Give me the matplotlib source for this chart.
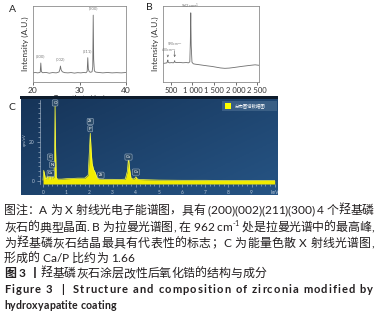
import matplotlib
matplotlib.use('Agg')
import matplotlib.pyplot as plt
import numpy as np
from matplotlib.patches import Rectangle
from matplotlib.font_manager import FontProperties
from matplotlib.ticker import MultipleLocator

# ---------------- data ----------------
xrd_theta = [20, 20.5, 21, 21.4, 21.55, 21.68, 21.8, 22.1, 22.8, 23.5, 24.2, 25, 25.6, 25.8,
             25.9, 26.05, 26.3, 26.8, 27.5, 28.2, 28.9, 29.6, 30.3, 30.9, 31.4, 31.65, 31.78,
             31.9, 32.1, 32.4, 32.7, 32.85, 32.95, 33.05, 33.2, 33.5, 34.2, 35, 36, 37, 38, 39, 40]
xrd_int = [12, 12.5, 12, 12.4, 13, 25, 13.5, 12.2, 12.6, 11.6, 12.4, 12, 13.2, 17, 21, 16, 13.5,
           12.3, 12, 12.4, 11.7, 12.3, 12, 12.5, 12.2, 14, 32, 17, 13.5, 12.8, 13.5, 20, 88, 30,
           14.5, 13, 12.5, 12, 12.5, 12, 12.3, 12, 12.5]
xrd_peak_labels = ['(200)', '(002)', '(211)', '(300)']
xrd_peak_pos = [21.68, 25.9, 31.78, 32.95]
xrd_peak_height = [25, 21, 32, 88]
xrd_ticks = [20, 30, 40]

raman_shift = [330, 370, 410, 425, 432, 440, 470, 520, 560, 582, 590, 598, 640, 700, 780, 860,
               910, 940, 952, 962, 972, 990, 1020, 1060, 1150, 1250, 1350, 1450, 1550, 1650,
               1750, 1850, 1950, 2050, 2150, 2250, 2350, 2450, 2540]
raman_int = [24.5, 24.8, 25.2, 27.5, 29, 26, 25.2, 25.5, 25.2, 26.5, 28, 26, 25.5, 25.8, 25.3,
             25.6, 25.2, 26.5, 52, 91, 48, 26, 24, 23.5, 22.8, 22, 21.2, 20.5, 19.5, 18.5, 18,
             18.3, 19, 19.8, 20.6, 21.3, 22, 22.6, 22]
raman_peak_label = '962cm$^{-1}$'
raman_peak_pos = 962
raman_small_labels = ['430cm$^{-1}$', '590cm$^{-1}$']
raman_small_pos = [432, 590]
raman_ticks = [500, 1000, 1500, 2000, 2500]
raman_ticklabels = ['500', '1 000', '1 500', '2 000', '2 500']

eds_kev = [0.0, 0.03, 0.06, 0.1, 0.15, 0.18, 0.22, 0.26, 0.28, 0.31, 0.35, 0.39, 0.43, 0.47,
           0.5, 0.52, 0.54, 0.57, 0.62, 0.8, 1.0, 1.2, 1.5, 1.8, 1.95, 2.0, 2.04, 2.08, 2.12,
           2.18, 2.25, 2.32, 2.4, 2.5, 2.7, 3.0, 3.3, 3.55, 3.64, 3.69, 3.74, 3.8, 3.9, 3.97,
           4.01, 4.06, 4.15, 4.4, 5, 6, 7, 8, 9, 10]
eds_cps = [0.5, 5.5, 4, 1.5, 1, 2.5, 1, 3, 4.5, 2, 1, 2.5, 1.5, 2, 15, 40, 18, 2, 1, 1, 1.2,
           1.3, 1.5, 1.5, 3, 15, 24.5, 15, 9, 6, 4.5, 2, 1.2, 1, 0.9, 0.9, 0.8, 1, 5, 12, 6,
           1.5, 1, 1.5, 2.2, 1.2, 0.8, 0.7, 0.5, 0.4, 0.4, 0.3, 0.3, 0.3]
eds_labels = ['O', 'Zr', 'P', 'C', 'N', 'Ca', 'Zr', 'Ca', 'Ca']
eds_label_x = [0.52, 2.04, 2.04, 0.3, 0.4, 0.33, 2.5, 3.69, 4.01]
eds_label_y = [40, 30.5, 26.8, 12.3, 8.3, 4.0, 3.0, 12.3, 4.6]
eds_xticks = [0, 1, 2, 3, 4, 5, 6, 7, 8, 9, 10]
eds_xticklabels = ['0', '1', '2', '3', '4', '5', '6', '7', '8', '9', 'keV']
eds_yticks = [0, 20]
eds_legend = '分布图谱数据图'

caption = [
    [("图注：A 为 X 射线光电子能谱图，具有 (200)(002)(211)(300) 4 个羟基磷", {})],
    [("灰石的典型晶面. B 为拉曼光谱图, 在 962 cm", {}), ("-1", {'sup': True}),
     (" 处是拉曼光谱中的最高峰,", {})],
    [("为羟基磷灰石结晶最具有代表性的标志；C 为能量色散 X 射线光谱图,", {})],
    [("形成的 Ca/P 比约为 1.66", {})],
    [("图 3 丨", {'bold': True}), ("羟基磷灰石涂层改性后氧化锆的结构与成分", {})],
    [("Figure 3  |  Structure and composition of zirconia modified by", {'bold': True, 'fs': 8})],
    [("hydroxyapatite coating", {'bold': True, 'fs': 7.6})],
]

# ---------------- figure ----------------
W, H = 379, 316
fig = plt.figure(figsize=(W / 100, H / 100), dpi=100)
LAT = 'Lato'
CJK = 'Noto Sans CJK SC'
plt.rcParams['font.family'] = [LAT, CJK, 'DejaVu Sans']


def px_axes(l, t, r, b, **kw):
    return fig.add_axes([l / W, 1 - b / H, (r - l) / W, (b - t) / H], **kw)


GRAY = '#6e6e6e'

# ---- Panel A ----
axA = px_axes(33, 6, 126, 82)
axA.plot(xrd_theta, xrd_int, color=GRAY, lw=0.6)
axA.set_xlim(20, 40)
axA.set_ylim(0, 100)
axA.set_xticks(xrd_ticks)
axA.set_yticks([])
axA.tick_params(axis='x', labelsize=6, length=2, width=0.5, pad=1.5, colors='#333333')
for s in axA.spines.values():
    s.set_color('#8c8c8c')
    s.set_linewidth(0.6)
axA.set_xlabel('Two- theta (deg)', fontsize=5, labelpad=1, color='#333333')
axA.set_ylabel('Intensity (A.U.)', fontsize=6, labelpad=3, color='#333333')
for lab, xp, hp in zip(xrd_peak_labels, xrd_peak_pos, xrd_peak_height):
    axA.text(xp, hp + 6, lab, fontsize=3, color='#777777', ha='center', va='bottom')
fig.text(12 / W, 1 - 9 / H, 'A', fontsize=7.5, ha='center', va='center', color='#222222')

# ---- Panel B ----
axB = px_axes(163, 6, 259, 82)
axB.plot(raman_shift, raman_int, color=GRAY, lw=0.6)
axB.set_xlim(320, 2540)
axB.set_ylim(0, 100)
axB.set_xticks(raman_ticks)
axB.set_xticklabels(raman_ticklabels)
axB.set_yticks([])
axB.tick_params(axis='x', labelsize=5.5, length=2, width=0.5, pad=1.5, colors='#333333')
for s in axB.spines.values():
    s.set_color('#8c8c8c')
    s.set_linewidth(0.6)
axB.set_xlabel('Raman shift (cm$^{-1}$)', fontsize=5, labelpad=1, color='#333333')
axB.set_ylabel('Intensity (A.U.)', fontsize=6, labelpad=3, color='#333333')
axB.text(raman_peak_pos, 93, raman_peak_label, fontsize=3, color='#777777', ha='center', va='bottom')
for lab, xp, ytxt in zip(raman_small_labels, raman_small_pos, [37, 45]):
    axB.annotate('', xy=(xp, 29), xytext=(xp, ytxt),
                 arrowprops=dict(arrowstyle='->', lw=0.4, color='#555555', mutation_scale=3))
    axB.text(xp + 10, ytxt, lab, fontsize=2.4, color='#777777', ha='center', va='bottom')
fig.text(149 / W, 1 - 8 / H, 'B', fontsize=7.5, ha='center', va='center', color='#222222')

# ---- Panel C ----
bg = px_axes(21, 97, 278, 195)
grad = np.linspace(0, 1, 64)
gx, gy = np.meshgrid(grad, grad)
g = 0.55 * gx + 0.45 * (1 - gy)
c0 = np.array([0x16, 0x34, 0x58]) / 255
c1 = np.array([0x26, 0x54, 0x84]) / 255
img = c0[None, None, :] * (1 - g[..., None]) + c1[None, None, :] * g[..., None]
bg.imshow(img, extent=[0, 1, 0, 1], aspect='auto', origin='lower')
bg.set_xlim(0, 1)
bg.set_ylim(0, 1)
bg.axis('off')
fig.add_artist(Rectangle((20 / W, 1 - 98.5 / H), 258 / W, 2 / H, transform=fig.transFigure,
                         color='#0e1c2c', lw=0))

axC = px_axes(40, 100, 277, 184)
axC.patch.set_alpha(0)
axC.fill_between(eds_kev, eds_cps, -1.5, color='#f2ec00', lw=0)
axC.plot(eds_kev, eds_cps, color='#ffff40', lw=0.5)
axC.set_xlim(-0.13, 10.1)
axC.set_ylim(-1.5, 41.5)
axC.set_xticks(eds_xticks)
axC.set_xticklabels(eds_xticklabels)
axC.set_yticks(eds_yticks)
axC.xaxis.set_minor_locator(MultipleLocator(0.2))
axC.yaxis.set_minor_locator(MultipleLocator(2.5))
LIGHT = '#b8c6d6'
axC.tick_params(which='major', labelsize=3.5, length=2.5, width=0.4, pad=1.5, colors=LIGHT)
axC.tick_params(which='minor', length=1.3, width=0.4, colors=LIGHT)
for k, s in axC.spines.items():
    if k == 'left':
        s.set_color(LIGHT)
        s.set_linewidth(0.4)
    else:
        s.set_visible(False)
fig.text(25 / W, 1 - 140 / H, 'cps/eV', fontsize=3, rotation=90, color=LIGHT,
         ha='center', va='center')
for lab, xl, yl in zip(eds_labels, eds_label_x, eds_label_y):
    axC.text(xl, yl, lab, fontsize=3.2, color='white', ha='center', va='center',
             bbox=dict(boxstyle='round,pad=0.25', fc='#2d4c69', ec='#a9bccf', lw=0.35))
fig.add_artist(Rectangle((222 / W, 1 - 111 / H), 55 / W, 10 / H, transform=fig.transFigure,
                         color='#3e6288', lw=0, alpha=0.9))
fig.add_artist(Rectangle((225 / W, 1 - 109 / H), 6 / W, 6 / H, transform=fig.transFigure,
                         color='#ffff00', lw=0))
fig.text(235 / W, 1 - 106 / H, eds_legend, fontsize=3.2, color='white', ha='left',
         va='center', family=[CJK])
fig.text(12 / W, 1 - 107 / H, 'C', fontsize=7.5, ha='center', va='center', color='#222222')

# ---- caption ----
renderer = fig.canvas.get_renderer()
TXT = '#231f20'


def tw(s, prop):
    return renderer.get_text_width_height_descent(s, prop, ismath=False)[0]


def advance(c, prop):
    return tw('x' + c + 'x', prop) - tw('xx', prop)


def draw_line(segs, x0, ybase, x1=None):
    items = []
    for text, opt in segs:
        fs = opt.get('fs', 8.6)
        bold = opt.get('bold', False)
        sup = opt.get('sup', False)
        for c in text:
            fam = CJK if ord(c) >= 0x2E80 else LAT
            size = fs * 0.6 if sup else fs
            prop = FontProperties(family=fam, size=size,
                                  weight='bold' if bold else 'normal')
            dy = -fs * 0.42 * 100 / 72 if sup else 0
            items.append((c, prop, dy))
    widths = [advance(c, p) for c, p, _ in items]
    gap = 0.0
    if x1 is not None and len(items) > 1:
        gap = (x1 - x0 - sum(widths)) / (len(items) - 1)
    x = x0
    for (c, p, dy), w in zip(items, widths):
        if c != ' ':
            fig.text(x / W, 1 - (ybase + dy) / H, c, fontproperties=p, ha='left',
                     va='baseline', color=TXT)
        x += w + gap


bases = [214, 231, 247, 262, 277, 293, 309]
rights = [374, 374, 374, None, None, 373, 116]
for segs, yb, xr in zip(caption, bases, rights):
    draw_line(segs, 4, yb, xr)

fig.savefig('out.png', dpi=100)
